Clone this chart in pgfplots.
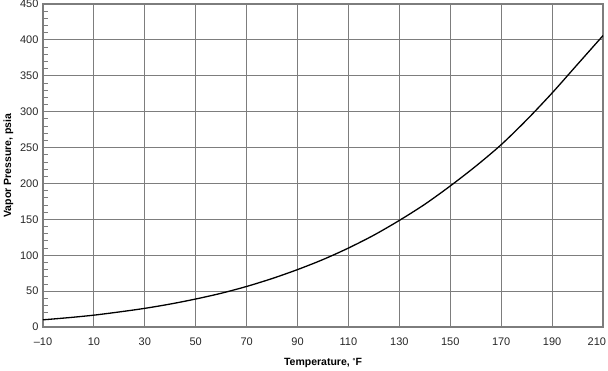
\documentclass[border=0pt]{standalone}
\usepackage{pgfplots}
\pgfplotsset{compat=1.18}
\usepackage{fontspec}
\setmainfont{Liberation Sans}
\definecolor{gridgray}{RGB}{125,125,125}
\begin{document}
\begin{tikzpicture}
\useasboundingbox (-43pt,-43pt) rectangle (565pt,327pt);
\begin{axis}[
  scale only axis,
  width=560pt, height=323pt,
  xmin=-10, xmax=210, ymin=0, ymax=450,
  xtick={-10,10,30,50,70,90,110,130,150,170,190,210},
  xticklabels={--10,10,30,50,70,90,110,130,150,170,190,{\makebox[0pt][r]{210\kern-3pt}}},
  ytick={0,50,...,450},
  minor y tick num=4,
  ytick pos=left, xtick pos=bottom,
  tick align=inside,
  major tick length=0pt,
  minor tick length=5pt,
  minor tick style={gridgray, line width=0.8pt},
  grid=major,
  major grid style={gridgray, line width=1.1pt},
  axis line style={gridgray, line width=1.1pt},
  /pgf/number format/assume math mode=true,
  ticklabel style={font=\fontsize{11}{13}\selectfont, text=black!85},
  xticklabel style={yshift=-7pt},
  yticklabel style={xshift=-1pt},
  xlabel={\textbf{Temperature, \raisebox{0.5ex}{\scriptsize\textdegree}F}},
  ylabel={\textbf{Vapor Pressure, psia}},
  label style={font=\fontsize{10.5}{12}\selectfont},
  xlabel style={yshift=-6pt},
  ylabel style={yshift=0pt},
]
\addplot[black, line width=1.3pt, smooth] coordinates {
(-10,10) (0,13) (10,16.5) (20,21) (30,26) (40,32) (50,39) (60,47) (70,56.5)
(80,67.5) (90,80) (100,94) (110,110) (120,128) (130,148.5) (140,171)
(150,196.5) (160,224) (170,254) (180,288.5) (190,326) (200,366) (210,406)
};
\end{axis}
\end{tikzpicture}
\end{document}
